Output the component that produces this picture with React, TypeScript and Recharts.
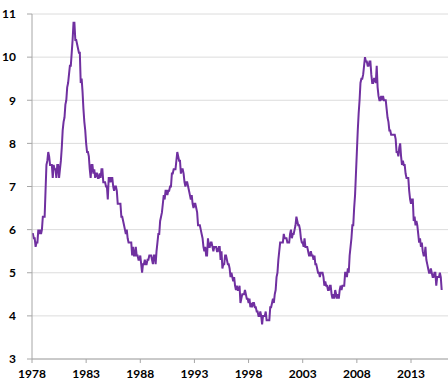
import { LineChart, Line, XAxis, YAxis, CartesianGrid } from "recharts"

// monthly rate, first point sits on the "1978" tick, one row per year
const rates1978to1987 = [
  5.9, 5.9, 5.8, 5.8, 5.6, 5.7, 5.7, 6.0, 5.9, 6.0, 5.9, 6.0,
  6.3, 6.3, 6.3, 6.9, 7.5, 7.6, 7.8, 7.7, 7.5, 7.5, 7.5, 7.2,
  7.5, 7.4, 7.4, 7.2, 7.5, 7.5, 7.2, 7.4, 7.6, 7.9, 8.3, 8.5,
  8.6, 8.9, 9.0, 9.3, 9.4, 9.6, 9.8, 9.8, 10.1, 10.4, 10.8, 10.8,
  10.4, 10.4, 10.3, 10.2, 10.1, 10.1, 9.4, 9.5, 9.2, 8.8, 8.5, 8.3,
  8.0, 7.8, 7.8, 7.7, 7.4, 7.2, 7.5, 7.5, 7.3, 7.4, 7.2, 7.3,
  7.3, 7.2, 7.2, 7.3, 7.2, 7.4, 7.4, 7.1, 7.1, 7.1, 7.0, 7.0,
  6.7, 7.2, 7.2, 7.1, 7.2, 7.2, 7.0, 6.9, 7.0, 7.0, 6.9, 6.6,
  6.6, 6.6, 6.6, 6.3, 6.3, 6.2, 6.1, 6.0, 5.9, 6.0, 5.8, 5.7,
  5.7, 5.7, 5.7, 5.4, 5.6, 5.4, 5.4, 5.6, 5.4, 5.4, 5.3, 5.3,
]

const rates1988to1997 = [
  5.4, 5.2, 5.0, 5.2, 5.2, 5.3, 5.2, 5.2, 5.3, 5.3, 5.4, 5.4,
  5.4, 5.3, 5.2, 5.4, 5.4, 5.2, 5.5, 5.7, 5.9, 5.9, 6.2, 6.3,
  6.4, 6.6, 6.8, 6.7, 6.9, 6.9, 6.8, 6.9, 6.9, 7.0, 7.0, 7.3,
  7.3, 7.4, 7.4, 7.4, 7.6, 7.8, 7.7, 7.6, 7.6, 7.3, 7.4, 7.4,
  7.3, 7.1, 7.0, 7.1, 7.1, 7.0, 6.9, 6.8, 6.7, 6.8, 6.6, 6.5,
  6.6, 6.6, 6.5, 6.4, 6.1, 6.1, 6.1, 6.0, 5.9, 5.8, 5.6, 5.5,
  5.6, 5.4, 5.4, 5.8, 5.6, 5.6, 5.7, 5.7, 5.6, 5.5, 5.6, 5.6,
  5.6, 5.5, 5.5, 5.6, 5.6, 5.3, 5.5, 5.1, 5.2, 5.2, 5.4, 5.4,
  5.3, 5.2, 5.2, 5.1, 4.9, 5.0, 4.9, 4.8, 4.9, 4.7, 4.6, 4.7,
  4.6, 4.6, 4.7, 4.3, 4.4, 4.5, 4.5, 4.5, 4.6, 4.5, 4.4, 4.4,
]

const rates1998to2007 = [
  4.3, 4.4, 4.2, 4.3, 4.2, 4.3, 4.3, 4.2, 4.2, 4.1, 4.1, 4.0,
  4.0, 4.1, 4.0, 3.8, 4.0, 4.0, 4.0, 4.1, 3.9, 3.9, 3.9, 3.9,
  4.2, 4.2, 4.3, 4.4, 4.3, 4.5, 4.6, 4.9, 5.0, 5.3, 5.5, 5.7,
  5.7, 5.7, 5.7, 5.9, 5.8, 5.8, 5.8, 5.7, 5.7, 5.7, 5.9, 6.0,
  5.8, 5.9, 5.9, 6.0, 6.1, 6.3, 6.2, 6.1, 6.1, 6.0, 5.8, 5.7,
  5.7, 5.6, 5.8, 5.6, 5.6, 5.6, 5.5, 5.4, 5.4, 5.5, 5.4, 5.4,
  5.3, 5.4, 5.2, 5.2, 5.1, 5.0, 5.0, 4.9, 5.0, 5.0, 5.0, 4.9,
  4.7, 4.8, 4.7, 4.7, 4.6, 4.6, 4.7, 4.7, 4.5, 4.4, 4.5, 4.4,
  4.6, 4.5, 4.4, 4.5, 4.4, 4.6, 4.7, 4.6, 4.7, 4.7, 4.7, 5.0,
  5.0, 4.9, 5.1, 5.0, 5.4, 5.6, 5.8, 6.1, 6.1, 6.5, 6.8, 7.3,
]

const rates2008to2015 = [
  7.8, 8.3, 8.7, 9.0, 9.4, 9.5, 9.5, 9.6, 9.8, 10.0, 9.9, 9.9,
  9.8, 9.8, 9.9, 9.9, 9.6, 9.4, 9.4, 9.5, 9.5, 9.4, 9.8, 9.3,
  9.1, 9.0, 9.0, 9.1, 9.0, 9.1, 9.0, 9.0, 9.0, 8.8, 8.6, 8.5,
  8.3, 8.3, 8.2, 8.2, 8.2, 8.2, 8.2, 8.1, 7.8, 7.8, 7.7, 7.9,
  8.0, 7.7, 7.5, 7.6, 7.5, 7.5, 7.3, 7.2, 7.2, 7.2, 6.9, 6.7,
  6.6, 6.7, 6.7, 6.2, 6.3, 6.1, 6.2, 6.1, 5.9, 5.7, 5.8, 5.6,
  5.7, 5.5, 5.4, 5.4, 5.6, 5.3, 5.2, 5.1, 5.0, 5.0, 5.1, 5.0,
  4.9, 4.9, 5.0, 5.0, 4.7, 4.9, 4.9, 4.9, 5.0, 4.9, 4.6,
]

const tickLabels = ["1978", "1983", "1988", "1993", "1998", "2003", "2008", "2013"]
const monthsPerTick = 60
const yTicks = [3, 4, 5, 6, 7, 8, 9, 10, 11]

const allRates = [...rates1978to1987, ...rates1988to1997, ...rates1998to2007, ...rates2008to2015]
const data = allRates.map((rate, i) => ({ m: i, rate }))
const xTicks = tickLabels.map((_, i) => i * monthsPerTick)

const tickFont = { fontFamily: "Lato", fontWeight: 700, fontSize: 12, fill: "#000" }

export default function App() {
  return (
    <div style={{ position: "absolute", left: 0, top: 0, width: 448, height: 388, background: "#fff" }}>
      <LineChart width={448} height={388} data={data} margin={{ top: 14, right: 0, bottom: 0, left: 0 }}>
        <CartesianGrid vertical={false} stroke="#dcdcdc" />
        <XAxis
          dataKey="m"
          type="number"
          domain={[0, 461]}
          ticks={xTicks}
          tickFormatter={(v) => tickLabels[Math.round(v / monthsPerTick)]}
          stroke="#a6a6a6"
          tickSize={4}
          tickMargin={6}
          height={29}
          tick={tickFont}
        />
        <YAxis
          domain={[3, 11]}
          ticks={yTicks}
          width={32}
          stroke="#a6a6a6"
          tickSize={5}
          tickMargin={11}
          tick={tickFont}
          interval={0}
        />
        <Line
          type="linear"
          dataKey="rate"
          stroke="#7030A0"
          strokeWidth={2}
          dot={false}
          isAnimationActive={false}
        />
      </LineChart>
    </div>
  )
}
